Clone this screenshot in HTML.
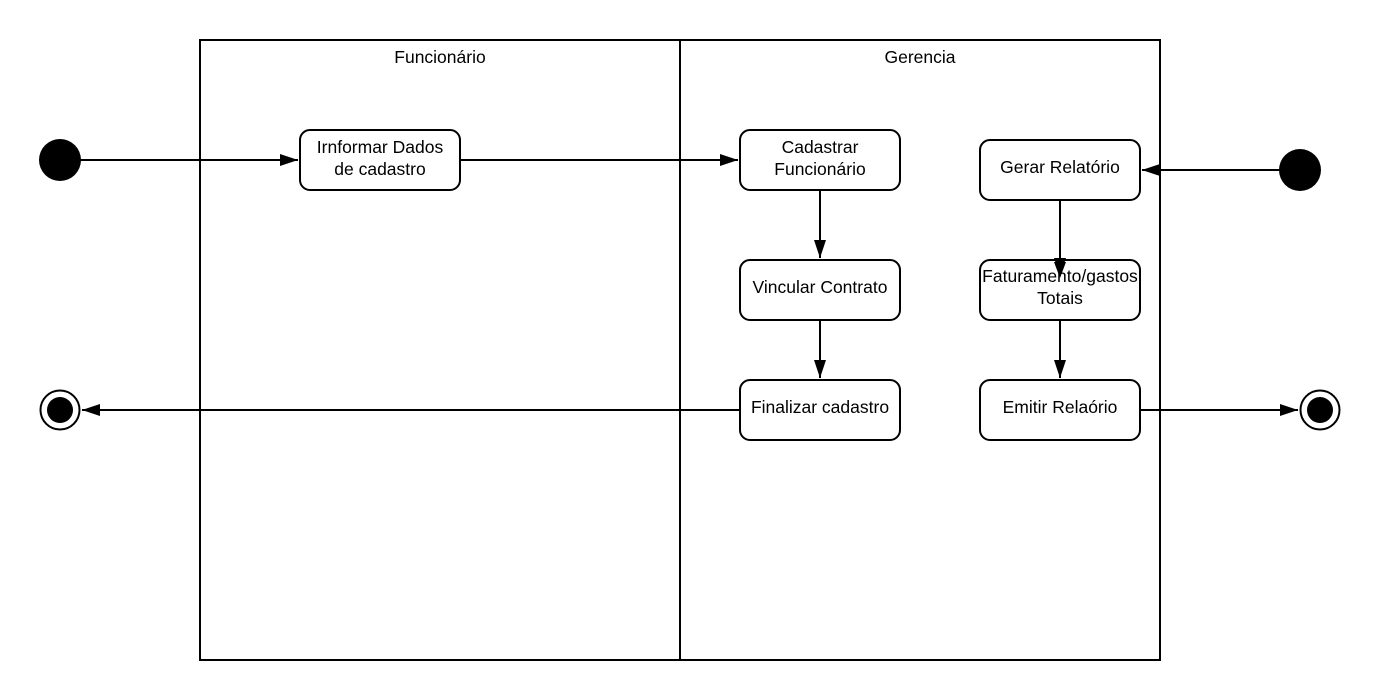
<!DOCTYPE html>
<html><head><meta charset="utf-8"><style>
html,body{margin:0;padding:0;background:#fff;}
svg{display:block;}
text{font-family:"Liberation Sans",Arial,sans-serif;font-size:17.5px;fill:#000;}
</style></head><body>
<svg width="1380" height="700" viewBox="0 0 1380 700" xmlns="http://www.w3.org/2000/svg">
<defs>
<marker id="a" markerWidth="20" markerHeight="12" refX="18" refY="6" orient="auto" markerUnits="userSpaceOnUse">
<path d="M0,0 L18,6 L0,12 z" fill="#000"/>
</marker>
</defs>
<rect x="200" y="40" width="960" height="620" fill="none" stroke="#000" stroke-width="2"/>
<line x1="680" y1="40" x2="680" y2="660" stroke="#000" stroke-width="2"/>
<text x="440" y="63" text-anchor="middle">Funcionário</text>
<text x="920" y="63" text-anchor="middle">Gerencia</text>

<g stroke="#000" stroke-width="2" fill="none">
<line x1="80" y1="160" x2="298" y2="160" marker-end="url(#a)"/>
<line x1="460" y1="160" x2="738" y2="160" marker-end="url(#a)"/>
<line x1="820" y1="190" x2="820" y2="258" marker-end="url(#a)"/>
<line x1="820" y1="320" x2="820" y2="378" marker-end="url(#a)"/>
<line x1="740" y1="410" x2="82" y2="410" marker-end="url(#a)"/>
<line x1="1280" y1="170" x2="1142" y2="170" marker-end="url(#a)"/>
<line x1="1060" y1="200" x2="1060" y2="276" marker-end="url(#a)"/>
<line x1="1060" y1="320" x2="1060" y2="378" marker-end="url(#a)"/>
<line x1="1140" y1="410" x2="1298" y2="410" marker-end="url(#a)"/>
</g>

<g fill="#fff" stroke="#000" stroke-width="2">
<rect x="300" y="130" width="160" height="60" rx="10"/>
<rect x="740" y="130" width="160" height="60" rx="10"/>
<rect x="740" y="260" width="160" height="60" rx="10"/>
<rect x="740" y="380" width="160" height="60" rx="10"/>
<rect x="980" y="140" width="160" height="60" rx="10"/>
<rect x="980" y="260" width="160" height="60" rx="10" fill="none"/>
<rect x="980" y="380" width="160" height="60" rx="10"/>
</g>
<path d="M1054,262 L1066,262 L1060,278 z" fill="#000"/>

<circle cx="60" cy="160" r="21" fill="#000"/>
<circle cx="1300" cy="170" r="21" fill="#000"/>
<circle cx="60" cy="410" r="19.5" fill="#fff" stroke="#000" stroke-width="2"/>
<circle cx="60" cy="410" r="13" fill="#000"/>
<circle cx="1320" cy="410" r="19.5" fill="#fff" stroke="#000" stroke-width="2"/>
<circle cx="1320" cy="410" r="13" fill="#000"/>

<g text-anchor="middle">
<text x="380" y="153">Irnformar Dados</text>
<text x="380" y="175">de cadastro</text>
<text x="820" y="153">Cadastrar</text>
<text x="820" y="175">Funcionário</text>
<text x="820" y="293">Vincular Contrato</text>
<text x="820" y="413">Finalizar cadastro</text>
<text x="1060" y="173">Gerar Relatório</text>
<text x="1060" y="282">Faturamento/gastos</text>
<text x="1060" y="304">Totais</text>
<text x="1060" y="413">Emitir Relaório</text>
</g>
</svg>
</body></html>
